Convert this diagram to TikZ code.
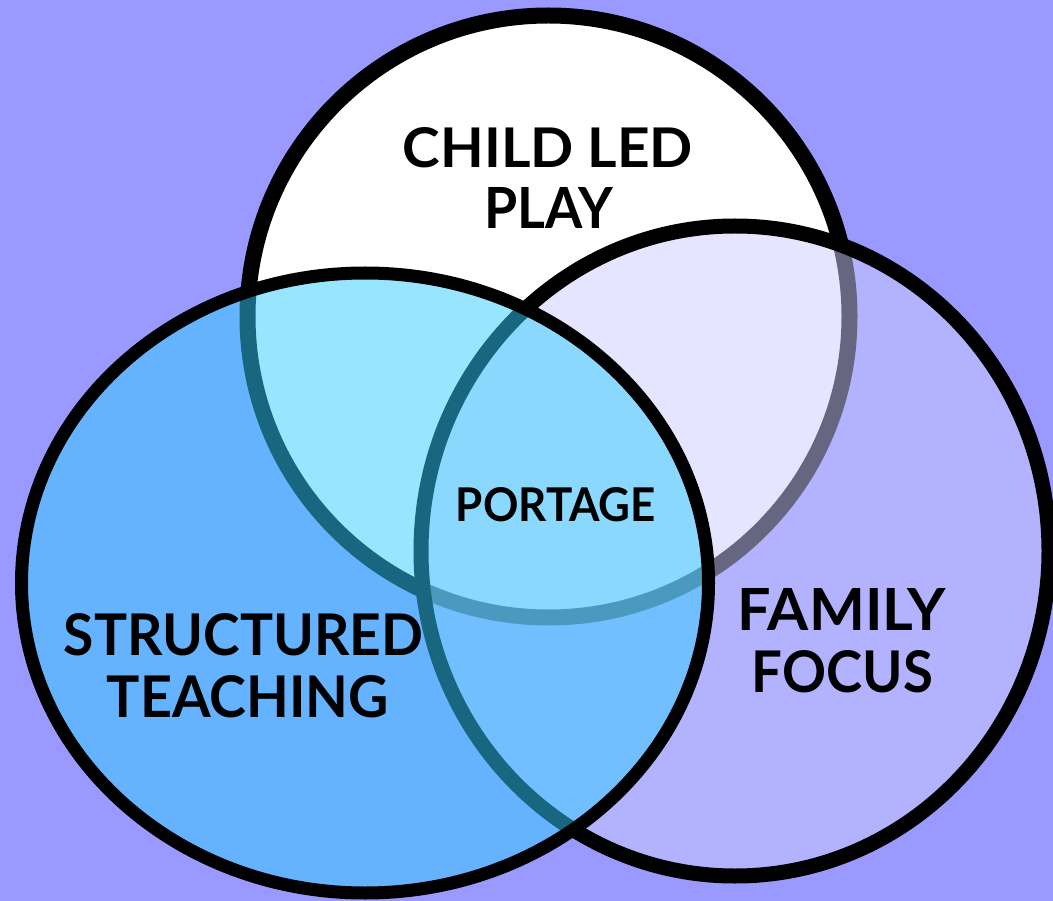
\documentclass[tikz,border=0pt]{standalone}
\usepackage{fontspec}
\usepackage{graphicx}
\newfontfamily\lblfont{Lato}
\definecolor{bgcol}{RGB}{153,153,255}
\definecolor{famcol}{RGB}{204,204,255}
\definecolor{teachcol}{RGB}{51,204,255}
\newcommand{\fitlbl}[3]{\resizebox{#1pt}{#2pt}{\lblfont\bfseries #3}}
\tikzset{
  lbl/.style={inner sep=0pt, outer sep=0pt, anchor=base, text=black},
  ring/.style={draw=black}
}
\begin{document}
\begin{tikzpicture}[x=1pt,y=-1pt]
\useasboundingbox (0,0) rectangle (1053,901);
\fill[bgcol] (0,0) rectangle (1053,901);
\clip (0,0) rectangle (1053,901);
% Child led play circle
\draw[ring, line width=16pt, fill=white] (548.5,316.5) circle [radius=301];
% Family focus circle
\draw[ring, line width=15pt, fill=famcol, fill opacity=0.5] (735,551) ellipse [x radius=314, y radius=325];
% Structured teaching circle
\draw[ring, line width=13pt, fill=teachcol, fill opacity=0.5] (365,583) ellipse [x radius=343.5, y radius=310];
% labels
\node[lbl] (child) at (548,168) {\fitlbl{290}{40}{CHILD LED}};
\node[lbl] (play) at (549,229) {\fitlbl{129}{41}{PLAY}};
\node[lbl] (struct) at (243.5,655) {\fitlbl{359}{42}{STRUCTURED}};
\node[lbl] (teach) at (248,717) {\fitlbl{282}{42}{TEACHING}};
\node[lbl] (family) at (842,630) {\fitlbl{208}{42}{FAMILY}};
\node[lbl] (focus) at (842.5,692) {\fitlbl{181}{42}{FOCUS}};
\node[lbl] (portage) at (556,521) {\fitlbl{200}{34}{PORTAGE}};
\end{tikzpicture}
\end{document}
